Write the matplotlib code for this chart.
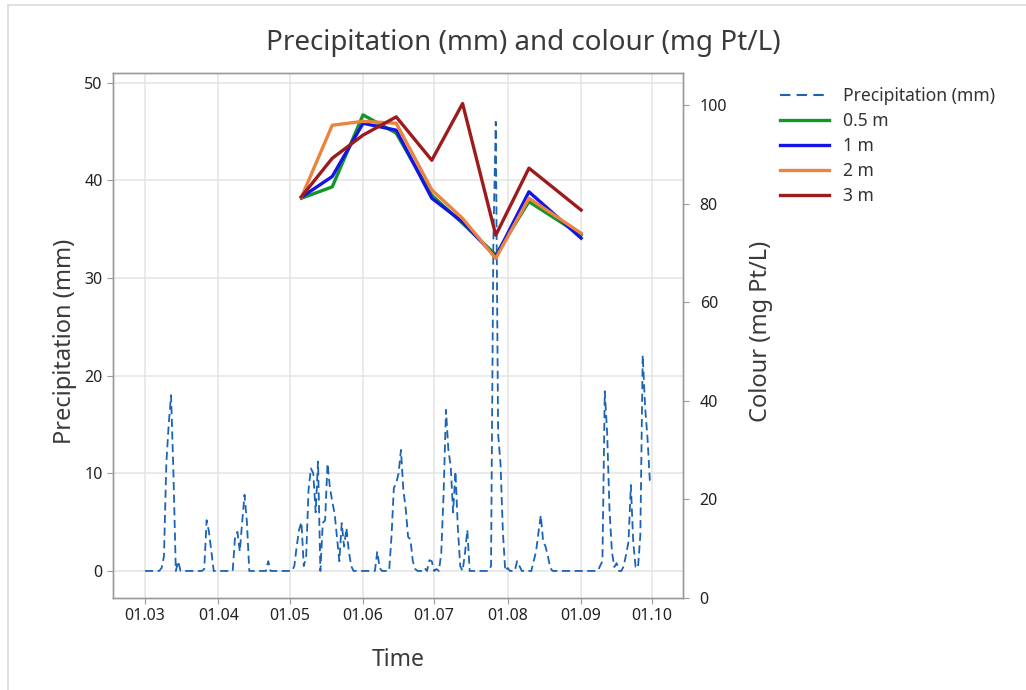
import matplotlib
matplotlib.use("Agg")
import matplotlib.pyplot as plt
import matplotlib.dates as mdates
from matplotlib.lines import Line2D
import pandas as pd

plt.rcParams['font.family'] = ['Noto Sans', 'DejaVu Sans']

# ---------------- data ----------------
precip_start = "2021-03-01"
precip_mar = [0, 0, 0, 0, 0, 0, 0, 0.3, 1.5, 11, 15, 18, 10, 0, 1, 0, 0, 0, 0, 0,
              0, 0, 0, 0, 0, 0.2, 5.2, 4.0, 2.0, 0, 0]
precip_apr = [0, 0, 0, 0, 0, 0, 0, 3.5, 4.0, 2.0, 5.0, 7.8, 5.0, 0, 0, 0, 0, 0, 0, 0,
              0, 1.0, 0, 0, 0, 0, 0, 0, 0, 0]
precip_may = [0, 0, 0.5, 2.5, 4.2, 5.0, 0.5, 1.5, 8.3, 10.5, 10, 6, 11.2, 0, 4.9, 5.2,
              11, 8.6, 7.1, 5.9, 3.4, 1, 4.9, 2.5, 4.4, 2, 0.5, 0, 0, 0, 0]
precip_jun = [0, 0, 0, 0, 0, 0, 2.0, 0.3, 0, 0, 0, 0, 3.5, 8.5, 9, 10, 12.4, 8.3, 6.4,
              3.5, 3.2, 1, 0.2, 0, 0, 0, 0.3, 0, 1.1, 1.0]
precip_jul = [0, 0.2, 0, 1.8, 8, 16.5, 12.4, 10.7, 6, 10.2, 4.4, 0.5, 0, 1.8, 4.2, 0,
              0, 0, 0, 0, 0, 0, 0, 0, 0.5, 34, 46, 14, 11, 4, 0]
precip_aug = [0.3, 0, 0, 0, 1, 0.5, 0, 0, 0, 0, 0, 1, 2, 3.9, 5.7, 3, 2.5, 1.5, 0.3, 0,
              0, 0, 0, 0, 0, 0, 0, 0, 0, 0, 0]
precip_sep = [0, 0, 0, 0, 0, 0, 0, 0, 0.5, 1, 18.4, 14.1, 6.2, 2, 0.4, 0.8, 0, 0, 0.5,
              1.7, 3, 8.8, 3, 0.4, 0.3, 3.7, 22.1, 16.8, 13.7, 9.3]
precip_oct = [9]

colour_dates = ["2021-05-06", "2021-05-19", "2021-06-01", "2021-06-15", "2021-06-30",
                "2021-07-13", "2021-07-27", "2021-08-10", "2021-09-01"]
colour_05m = [81.1, 83.4, 98.0, 94.3, 81.7, 76.0, 69.6, 80.4, 73.6]
colour_1m = [81.3, 85.5, 96.3, 94.9, 81.1, 76.3, 69.2, 82.4, 73.0]
colour_2m = [81.3, 95.9, 96.7, 96.3, 82.8, 77.0, 68.9, 81.1, 74.0]
colour_3m = [81.4, 89.2, 93.9, 97.6, 88.8, 100.3, 73.6, 87.2, 78.7]

series_labels = ["0.5 m", "1 m", "2 m", "3 m"]
series_colors = ["#12962a", "#1414e6", "#ea8440", "#9c1c1e"]
precip_color = "#1b63b5"

tick_dates = ["2021-03-01", "2021-04-01", "2021-05-01", "2021-06-01",
              "2021-07-01", "2021-08-01", "2021-09-01", "2021-10-01"]

# ---------------- build ----------------
precip = (precip_mar + precip_apr + precip_may + precip_jun + precip_jul +
          precip_aug + precip_sep + precip_oct)
precip_days = pd.date_range(precip_start, periods=len(precip), freq="D")
cdates = pd.to_datetime(colour_dates)

fig = plt.figure(figsize=(10.26, 6.90), dpi=100)
fig.patch.set_facecolor("white")

# light frame lines of the screenshot
fig.add_artist(Line2D([7.7 / 1026, 1], [1 - 4.7 / 690, 1 - 4.7 / 690],
                      transform=fig.transFigure, color="#dcdcdc", lw=1.2))
fig.add_artist(Line2D([7.7 / 1026, 7.7 / 1026], [0, 1 - 4.7 / 690],
                      transform=fig.transFigure, color="#dcdcdc", lw=1.2))

ax = fig.add_axes([113 / 1026, 1 - 598 / 690, (683 - 113) / 1026, (598 - 73) / 690])
ax2 = ax.twinx()

grid_c = "#e4e4e4"
spine_c = "#9a9a9a"
text_c = "#3a3a3a"

ax.plot(precip_days, precip, color=precip_color, lw=1.3, ls=(0, (4.5, 2.5)),
        label="Precipitation (mm)", zorder=3)

ax.set_ylim(-2.77, 51.0)
ax.set_yticks([0, 10, 20, 30, 40, 50])
ax.set_xlim(pd.Timestamp("2021-03-01") - pd.Timedelta(days=13.5),
            pd.Timestamp("2021-03-01") + pd.Timedelta(days=227))
ax.set_xticks(pd.to_datetime(tick_dates))
ax.xaxis.set_major_formatter(mdates.DateFormatter("%d.%m"))
ax.grid(True, color=grid_c, lw=1.1)
ax.set_axisbelow(True)

lines = []
for vals, lab, col in zip([colour_05m, colour_1m, colour_2m, colour_3m],
                          series_labels, series_colors):
    l, = ax2.plot(cdates, vals, color=col, lw=2.4, label=lab, zorder=4)
    lines.append(l)
ax2.set_ylim(0, 106.5)
ax2.set_yticks([0, 20, 40, 60, 80, 100])

for a in (ax, ax2):
    for s in a.spines.values():
        s.set_color(spine_c)
        s.set_linewidth(1.0)
    a.tick_params(colors=spine_c, labelcolor="#222222", labelsize=11.5, length=4)
ax2.tick_params(pad=8)

fig.text(523 / 1026, 1 - 43 / 690, "Precipitation (mm) and colour (mg Pt/L)",
         fontsize=20, color=text_c, ha="center", va="center")
ax.set_xlabel("Time", fontsize=16.5, color=text_c, labelpad=17)
ax.set_ylabel("Precipitation (mm)", fontsize=17, color=text_c, labelpad=5)
ax2.set_ylabel("Colour (mg Pt/L)", fontsize=17, color=text_c, labelpad=16)
ax.yaxis.label.set_y(0.488)
ax2.yaxis.label.set_y(0.507)

handles = [Line2D([], [], color=precip_color, lw=1.5, ls=(0, (5, 3)))] + lines
labels = ["Precipitation (mm)"] + series_labels
fig.legend(handles, labels, loc="upper left", bbox_to_anchor=(0.753, 0.884),
           frameon=False, fontsize=12.6, handlelength=2.8, handletextpad=0.8,
           labelspacing=0.40, labelcolor="#333333", borderaxespad=0)

fig.savefig("out.png", dpi=100, facecolor="white")
